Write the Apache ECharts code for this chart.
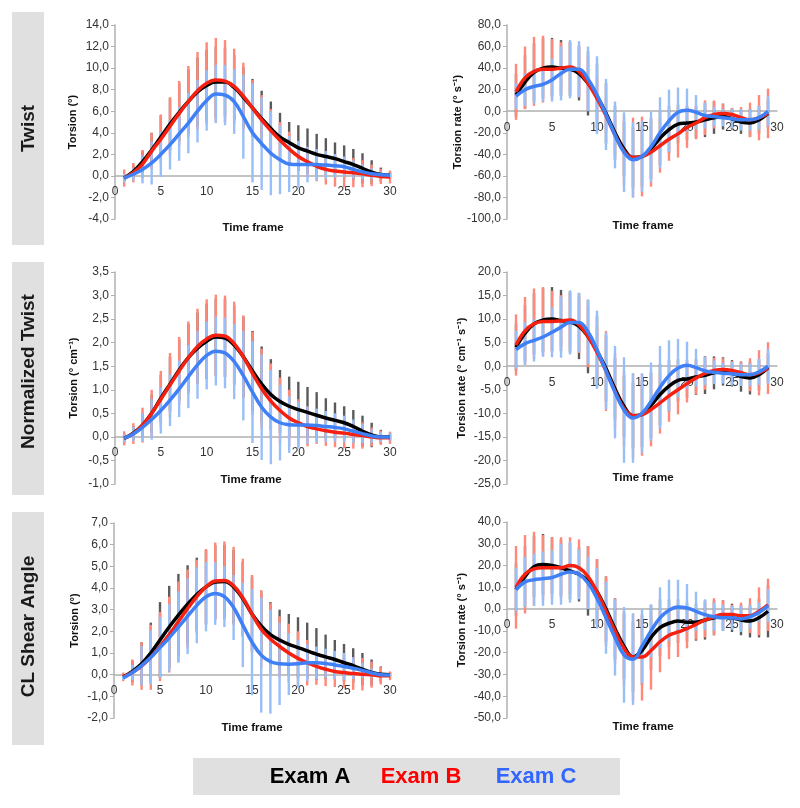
<!DOCTYPE html>
<html><head><meta charset="utf-8">
<script src="https://cdn.jsdelivr.net/npm/echarts@6/dist/echarts.min.js"></script>
<style>html,body{margin:0;padding:0;background:#fff}#main{width:800px;height:808px}</style>
</head><body><div id="main"></div>
<script>
// ---- Twist (°) : frames 1..30
const twistA = [-0.2,0.4,1.3,2.4,3.6,4.8,5.9,6.9,7.8,8.4,8.7,8.7,8.2,7.3,6.3,5.3,4.4,3.6,3.1,2.6,2.3,2.0,1.8,1.6,1.33,1.05,0.7,0.35,0.12,0.05];
const twistSdA = [0.3,0.6,1.0,1.6,2.0,2.4,2.7,3.0,3.2,3.3,3.3,3.2,3.0,2.8,2.7,2.6,2.5,2.25,1.9,2.1,2.1,1.9,1.7,1.5,1.5,1.45,1.4,1.1,0.65,0.3];
const twistB = [-0.2,0.3,1.1,2.3,3.4,4.6,5.8,6.9,7.9,8.6,8.9,8.8,8.3,7.4,6.3,5.2,4.2,3.3,2.5,1.8,1.3,0.9,0.6,0.45,0.35,0.3,0.2,0.05,-0.05,-0.1];
const twistSdB = [0.8,0.9,1.3,1.7,2.3,2.7,3.0,3.3,3.6,3.8,3.9,3.8,3.5,3.1,2.6,2.3,2.0,1.7,1.6,1.4,1.4,1.4,1.4,1.45,1.4,1.35,1.25,1.0,0.7,0.6];
const twistC = [-0.2,0.15,0.6,1.2,2.0,2.9,3.9,4.9,6.0,7.0,7.6,7.5,6.9,5.5,4.0,3.0,2.1,1.5,1.1,1.05,1.05,1.05,1.0,0.93,0.85,0.6,0.37,0.2,0.1,0.05];
const twistSdC = [0.4,0.6,1.3,2.0,2.1,2.3,2.5,2.8,2.9,2.8,2.7,2.8,3.0,3.9,4.6,4.3,3.9,3.2,2.6,2.2,1.65,1.45,1.3,1.1,0.95,0.85,0.7,0.5,0.3,0.2];

// ---- Twist rate (° s-1) : frames 1..29
const rateA = [15,27,36,40,41,40,39,35,26,14,-2,-20,-35,-43,-42,-35,-25,-17,-12,-11,-10,-8,-6,-5,-7,-10,-11,-8,-2];
const rateSdA = [20,25,27,28,27,26,25,25,30,30,28,25,25,28,28,28,25,22,18,16,15,16,15,12,10,11,13,13,13];
const rateB = [18,31,37,39,39,40,41,37,26,12,-4,-22,-37,-43,-42,-38,-32,-26,-21,-15,-11,-6,-3,-2,-3,-6,-8,-6,-2];
const rateSdB = [26,29,32,31,28,24,24,24,25,20,16,18,32,37,37,32,25,20,22,19,15,16,13,9,6,10,16,21,23];
const rateC = [14,20,23,25,29,35,39,39,30,15,-3,-22,-38,-45,-42,-33,-20,-9,-1,1,-1,-4,-5,-6,-7,-8,-8,-6,0];
const rateSdC = [12,15,16,16,20,25,27,26,30,36,33,31,37,35,33,33,33,29,23,20,16,12,9,8,9,10,10,11,14];

// ---- Normalized twist (° cm-1) : frames 1..30
const normA = [-0.03,0.08,0.25,0.5,0.82,1.12,1.42,1.68,1.88,2.03,2.12,2.1,1.95,1.7,1.4,1.12,0.9,0.75,0.65,0.58,0.52,0.46,0.4,0.35,0.3,0.22,0.12,0.04,0.0,0.0];
const normSdA = [0.1,0.15,0.25,0.4,0.5,0.58,0.65,0.72,0.76,0.8,0.82,0.83,0.84,0.85,0.85,0.8,0.75,0.67,0.63,0.59,0.54,0.49,0.42,0.38,0.35,0.35,0.33,0.26,0.15,0.08];
const normB = [-0.03,0.07,0.25,0.5,0.8,1.1,1.4,1.68,1.92,2.08,2.16,2.14,1.98,1.7,1.35,1.02,0.76,0.56,0.4,0.3,0.22,0.17,0.13,0.1,0.08,0.05,0.03,0.0,-0.02,-0.02];
const normSdB = [0.15,0.22,0.37,0.5,0.6,0.68,0.72,0.77,0.8,0.84,0.86,0.86,0.89,0.88,0.88,0.85,0.8,0.7,0.6,0.5,0.42,0.32,0.32,0.32,0.32,0.3,0.28,0.2,0.15,0.13];
const normC = [-0.03,0.06,0.2,0.37,0.56,0.78,1.02,1.28,1.53,1.73,1.82,1.78,1.6,1.3,0.95,0.63,0.42,0.3,0.26,0.25,0.25,0.24,0.22,0.2,0.17,0.12,0.07,0.02,0.0,0.0];
const normSdC = [0.08,0.15,0.3,0.43,0.49,0.55,0.6,0.67,0.72,0.72,0.73,0.75,0.8,0.95,1.08,1.12,1.0,0.8,0.6,0.5,0.4,0.36,0.33,0.3,0.28,0.25,0.2,0.14,0.1,0.08];

// ---- Normalized twist rate (° cm-1 s-1) : frames 1..29
const nrateA = [4,7,9,9.8,10,9.7,9.4,8.5,6.3,3.2,-0.5,-4.8,-8.5,-10.5,-10.2,-8.3,-6,-4.2,-3,-2.7,-2.3,-1.9,-1.4,-1.1,-1.5,-2.2,-2.5,-1.8,-0.3];
const nrateSdA = [5,6,6.5,6.8,6.8,6.5,6.5,7,7.8,7.5,7,6.5,6.5,7,7,7,6.5,5.5,4.5,4,3.8,4,3.5,3,2.8,3.2,3.5,3.3,3];
const nrateB = [4.5,7.5,9,9.5,9.5,9.6,9.8,8.8,6.3,3,-1,-5.3,-9,-10.5,-10.3,-9.2,-7.8,-6.3,-5,-3.7,-2.5,-1.5,-0.9,-0.7,-0.9,-1.4,-1.8,-1.4,-0.4];
const nrateSdB = [6.5,7.2,7.5,7.3,6.5,5.5,5.8,6,6.5,5.5,8.5,8,8,9,8.7,7.8,6.5,5.5,5.2,4,3.5,3.5,2.7,2.4,2,2.3,3.5,4.8,5.5];
const nrateC = [3.5,4.8,5.5,6.2,7.2,8.3,9.3,9.3,7.3,3.5,-1,-5.5,-9.3,-11,-10,-7.5,-4.5,-2,-0.4,0.2,-0.3,-1,-1.3,-1.5,-1.6,-1.8,-1.8,-1.2,0];
const nrateSdC = [4,4.5,4.5,4.2,5.3,6.5,6.8,6.3,6.8,8.3,8.2,9.8,11.2,9.5,8.5,8.3,8.8,7.5,6.2,5,4,3,2.5,2.2,2.5,2.4,2.4,2.8,3.7];

// ---- CL shear angle (°) : frames 1..30
const clA = [-0.1,0.15,0.5,1.0,1.6,2.2,2.75,3.25,3.7,4.05,4.28,4.3,4.05,3.5,2.8,2.25,1.85,1.6,1.4,1.25,1.1,0.95,0.82,0.7,0.55,0.42,0.25,0.1,0.02,0.0];
const clSdA = [0.1,0.5,1.0,1.4,1.75,1.9,1.9,1.8,1.7,1.7,1.7,1.7,1.7,1.7,1.7,1.6,1.5,1.4,1.4,1.4,1.3,1.2,1.03,0.9,0.87,0.8,0.75,0.6,0.36,0.1];
const clB = [-0.1,0.1,0.4,0.8,1.3,1.85,2.45,3.05,3.6,4.05,4.32,4.35,4.1,3.55,2.8,2.1,1.65,1.3,1.0,0.75,0.55,0.38,0.25,0.15,0.1,0.05,0.02,0.0,-0.05,-0.05];
const clSdB = [0.2,0.6,1.1,1.5,1.6,1.75,1.85,1.8,1.7,1.75,1.78,1.8,1.8,1.8,1.8,1.8,1.65,1.4,1.35,1.25,1.05,0.85,0.78,0.72,0.7,0.75,0.75,0.6,0.4,0.2];
const clC = [-0.15,0.1,0.42,0.8,1.25,1.7,2.2,2.7,3.2,3.6,3.75,3.6,3.1,2.3,1.5,0.9,0.6,0.5,0.48,0.5,0.55,0.55,0.52,0.45,0.38,0.3,0.2,0.08,0.0,-0.02];
const clSdC = [0.1,0.35,0.9,1.25,1.4,1.55,1.65,1.75,1.75,1.6,1.45,1.4,1.5,1.95,2.45,2.65,2.4,1.9,1.42,1.1,0.85,0.75,0.68,0.65,0.62,0.5,0.35,0.22,0.1,0.05];

// ---- CL shear rate (° s-1) : frames 1..29
const clrA = [9,15,19.5,20.5,20,19,17.5,16,13,8,0,-9,-17,-22,-19,-13,-8.5,-6.5,-5.5,-6,-6,-5,-4,-3,-4,-5,-5.5,-4,-1];
const clrSdA = [12,14,14,14,13,13,13,12.5,16,15,15,14,15,16,16,15,13,11,10,9,8.5,9,8,7,6.5,7,7.5,9,12];
const clrB = [10,16,18.5,19,19,19,20,19,15,8,-1,-10,-18,-22,-22,-19,-15,-12,-10.5,-9,-7,-5,-3.5,-2.5,-2.5,-3,-3,-1,2];
const clrSdB = [19,18,17,15,14,14,13,13,14,15,16,15,17,20,20,18,14,11,11.5,9,7,8,8.5,6.5,4.5,6,8,11,12];
const clrC = [9,12.5,13.5,14,14.5,16,17,16,12,5,-4,-13,-21,-23,-17,-10,-4,-0.5,1,0.5,-1,-2.5,-3.5,-4,-4,-4.5,-3.5,-1.5,1.5];
const clrSdC = [10,11.5,12,12.5,12.5,14,14,11.5,12,14,16.5,17.5,22,21,17,12,14,14,12.5,11,9,7,6.5,6,5.5,6,5.5,4.5,7.5];

const rowLabels = ['Twist', 'Normalized Twist', 'CL Shear Angle'];
const examNames = ['Exam A', 'Exam B', 'Exam C'];
const xTitle = 'Time frame';
const yTitles = ['Torsion (°)', 'Torsion rate (° s⁻¹)', 'Torsion (° cm⁻¹)', 'Torsion rate (° cm⁻¹ s⁻¹)', 'Torsion (°)', 'Torsion rate (° s⁻¹)'];
const yRanges = [[-4,14,2],[-100,80,20],[-1,3.5,0.5],[-25,20,5],[-2,7,1],[-50,40,10]];

const FONT = '"Liberation Sans", Arial, Helvetica, sans-serif';
const lineColors = ['#000000', '#f5200f', '#3f80f6'];
const barColors = ['#5a5a5a', '#ff8878', '#98bff8'];

const panelData = [
  [[twistA,twistSdA],[twistB,twistSdB],[twistC,twistSdC]],
  [[rateA,rateSdA],[rateB,rateSdB],[rateC,rateSdC]],
  [[normA,normSdA],[normB,normSdB],[normC,normSdC]],
  [[nrateA,nrateSdA],[nrateB,nrateSdB],[nrateC,nrateSdC]],
  [[clA,clSdA],[clB,clSdB],[clC,clSdC]],
  [[clrA,clrSdA],[clrB,clrSdB],[clrC,clrSdC]]
];
const grids = [
  {left:115, top:25, width:275, height:194},
  {left:507, top:25, width:270, height:194},
  {left:115, top:272, width:275, height:212},
  {left:507, top:272, width:270, height:212},
  {left:114, top:523, width:276, height:195},
  {left:507, top:522, width:270, height:196}
];
const nameGaps = [37, 44, 36, 40, 34, 40];
const xTitlePos = [[253,228],[643,226],[251,480],[643,478],[252,728],[643,727]];

function fmt(v){ return v.toFixed(1).replace('.', ','); }

function errRender(params, api){
  const x = api.value(0);
  const p1 = api.coord([x, api.value(1)]);
  const p2 = api.coord([x, api.value(2)]);
  return {type:'line', shape:{x1:p1[0], y1:p1[1], x2:p2[0], y2:p2[1]},
          style:{stroke: api.visual('color'), lineWidth: 2.4}};
}

const xAxis = [], yAxis = [], series = [];
grids.forEach((g, i) => {
  const r = yRanges[i];
  // place the x axis on the value 0 of the y scale
  const zeroOffset = -g.height * (0 - r[0]) / (r[1] - r[0]);
  xAxis.push({gridIndex:i, type:'value', min:0, max:30, interval:5, position:'bottom',
    offset: zeroOffset,
    axisLine:{onZero:false, lineStyle:{color:'#b0b0b0', width:1.5}},
    axisTick:{show:false}, splitLine:{show:false},
    axisLabel:{fontFamily:FONT, fontSize:12, color:'#333', margin:10}});
  yAxis.push({gridIndex:i, type:'value', min:r[0], max:r[1], interval:r[2],
    axisLine:{show:true, lineStyle:{color:'#b0b0b0', width:1.5}},
    axisTick:{show:true, length:4, lineStyle:{color:'#b0b0b0'}},
    splitLine:{show:false},
    axisLabel:{fontFamily:FONT, fontSize:12, color:'#333', margin:6, formatter:fmt},
    name:yTitles[i], nameLocation:'middle', nameGap:nameGaps[i],
    nameTextStyle:{fontFamily:FONT, fontSize:11, fontWeight:'bold', color:'#111'}});
  const d = panelData[i];
  d.forEach((s, k) => {
    const [mean, sd] = s;
    series.push({type:'custom', xAxisIndex:i, yAxisIndex:i, name:examNames[k],
      renderItem:errRender, itemStyle:{color:barColors[k]}, z:2, silent:true,
      encode:{x:0, y:[1,2]},
      data: mean.map((m, j) => [j+1, m - sd[j], m + sd[j]])});
  });
  d.forEach((s, k) => {
    const mean = s[0];
    series.push({type:'line', xAxisIndex:i, yAxisIndex:i, name:examNames[k],
      smooth:0.4, showSymbol:false, z:3, silent:true,
      lineStyle:{color:lineColors[k], width:3.5}, itemStyle:{color:lineColors[k]},
      data: mean.map((m, j) => [j+1, m])});
  });
});

const graphic = [];
const rowBoxes = [[12,245],[262,495],[512,745]];
rowBoxes.forEach((b, i) => {
  graphic.push({type:'rect', shape:{x:12, y:b[0], width:32, height:b[1]-b[0]}, style:{fill:'#e0e0e0'}, z:0});
  graphic.push({type:'text', x:29, y:(b[0]+b[1])/2 + [0,-7,-2][i], rotation:Math.PI/2,
    style:{text:rowLabels[i], fill:'#1a1a1a', font:'bold 19px ' + FONT, textAlign:'center', textVerticalAlign:'middle'}, z:1});
});
xTitlePos.forEach(p => {
  graphic.push({type:'text', x:p[0], y:p[1], style:{text:xTitle, fill:'#111', font:'bold 11.5px ' + FONT, textAlign:'center', textVerticalAlign:'middle'}});
});
graphic.push({type:'rect', shape:{x:193, y:758, width:427, height:37}, style:{fill:'#e0e0e0'}, z:0});
const legX = [310, 421, 536];
examNames.forEach((n, k) => {
  graphic.push({type:'text', x:legX[k], y:777, style:{text:n, fill:['#000000','#ff0000','#3366ff'][k], font:'bold 22px ' + FONT, textAlign:'center', textVerticalAlign:'middle'}, z:1});
});

const chart = echarts.init(document.getElementById('main'), null, {renderer:'canvas'});
chart.setOption({
  animation:false,
  backgroundColor:'#ffffff',
  textStyle:{fontFamily:FONT},
  grid: grids.map(g => Object.assign({containLabel:false}, g)),
  xAxis, yAxis, series, graphic
});
</script>
</body></html>
